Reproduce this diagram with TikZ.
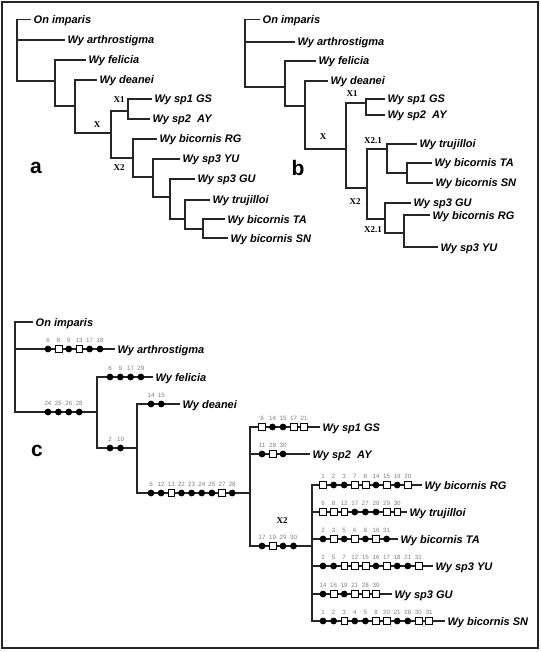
\documentclass[tikz,border=0pt]{standalone}
\usepackage{fontspec}
\setmainfont{Liberation Sans}
\newfontfamily\serifbold{Liberation Serif}
\newcommand{\markrow}[5]{%
  \foreach \mnum/\mtyp [count=\mi] in {#5} {%
    \node[mk\mtyp, label={[numlbl]above:\mnum}] (#1-\mi) at ({#2+(\mi-1)*#3},#4) {};
  }}
\tikzset{
  sp/.style={anchor=west, font=\bfseries\itshape\fontsize{11}{12}\selectfont, inner xsep=2.5pt, inner ysep=0pt, text height=8pt, text depth=0pt},
  br/.style={line width=1.25pt, black!85},
  xlab/.style={font=\serifbold\bfseries\fontsize{9}{10}\selectfont, inner sep=0pt},
  panel/.style={font=\bfseries\fontsize{21}{22}\selectfont, inner sep=0pt},
  mkf/.style={circle, fill=black, minimum size=6.8pt, inner sep=0pt},
  mko/.style={rectangle, draw=black, fill=white, line width=0.6pt, minimum size=6.8pt, inner sep=0pt},
  numlbl/.style={font=\fontsize{6.2}{6.2}\selectfont, text=black!50, inner sep=0pt, text height=4.4pt, text depth=0pt, label distance=2.8pt},
}
\begin{document}
\begin{tikzpicture}[x=1pt,y=-1pt]
\useasboundingbox (0,0) rectangle (540,652);
\draw[line width=1.3pt, black!85] (2,2) rectangle (538,648);

% ---------- tree a ----------
\coordinate (aR) at (17,50);
\node[sp] (aOn) at (31,19.5) {On imparis};
\node[sp] (aArth) at (65,40) {Wy arthrostigma};
\coordinate (aN1) at (55,81);
\node[sp] (aFel) at (86,60) {Wy felicia};
\coordinate (aN2) at (75,106);
\node[sp] (aDea) at (97,80) {Wy deanei};
\coordinate (aX) at (111,133);
\coordinate (aX1) at (128,111);
\node[sp] (aGS) at (152,99) {Wy sp1 GS};
\node[sp] (aAY) at (150,119) {Wy sp2\ \ AY};
\coordinate (aX2) at (133,158);
\node[sp] (aRG) at (157,139) {Wy bicornis RG};
\coordinate (aN3) at (153,177);
\node[sp] (aYU) at (180,159) {Wy sp3 YU};
\coordinate (aN4) at (170,197);
\node[sp] (aGU) at (195,179) {Wy sp3 GU};
\coordinate (aN5) at (185,219);
\node[sp] (aTru) at (210,200) {Wy trujilloi};
\coordinate (aN6) at (203,229);
\node[sp] (aTA) at (225,219) {Wy bicornis TA};
\node[sp] (aSN) at (228,238) {Wy bicornis SN};
\draw[br] (aR) |- (aOn.west);
\draw[br] (aR) |- (aArth.west);
\draw[br] (aR) |- (aN1);
\draw[br] (aN1) |- (aFel.west);
\draw[br] (aN1) |- (aN2);
\draw[br] (aN2) |- (aDea.west);
\draw[br] (aN2) |- (aX);
\draw[br] (aX) |- (aX1);
\draw[br] (aX1) |- (aGS.west);
\draw[br] (aX1) |- (aAY.west);
\draw[br] (aX) |- (aX2);
\draw[br] (aX2) |- (aRG.west);
\draw[br] (aX2) |- (aN3);
\draw[br] (aN3) |- (aYU.west);
\draw[br] (aN3) |- (aN4);
\draw[br] (aN4) |- (aGU.west);
\draw[br] (aN4) |- (aN5);
\draw[br] (aN5) |- (aTru.west);
\draw[br] (aN5) |- (aN6);
\draw[br] (aN6) |- (aTA.west);
\draw[br] (aN6) |- (aSN.west);
\node[xlab] (aXl) at (97,125) {X};
\node[xlab] (aX1l) at (119,100) {X1};
\node[xlab] (aX2l) at (119,168) {X2};
\node[panel] (aP) at (36,168) {a};

% ---------- tree b ----------
\coordinate (bR) at (245,50);
\node[sp] (bOn) at (260,19.5) {On imparis};
\node[sp] (bArth) at (295,42) {Wy arthrostigma};
\coordinate (bN1) at (285,87);
\node[sp] (bFel) at (316,61) {Wy felicia};
\coordinate (bN2) at (305,106);
\node[sp] (bDea) at (328,81) {Wy deanei};
\coordinate (bX) at (346,149);
\coordinate (bX1) at (366,103);
\node[sp] (bGS) at (385,99) {Wy sp1 GS};
\node[sp] (bAY) at (385,115) {Wy sp2\ \ AY};
\coordinate (bX2) at (367,188);
\coordinate (bX21a) at (387,149);
\node[sp] (bTru) at (417,144) {Wy trujilloi};
\coordinate (bN3) at (407,173);
\node[sp] (bTA) at (432,163) {Wy bicornis TA};
\node[sp] (bSN) at (433,183) {Wy bicornis SN};
\coordinate (bX21b) at (385,219);
\node[sp] (bGU) at (411,203) {Wy sp3 GU};
\coordinate (bN4) at (404,233);
\node[sp] (bRG) at (430,215) {Wy bicornis RG};
\node[sp] (bYU) at (438,247) {Wy sp3 YU};
\draw[br] (bR) |- (bOn.west);
\draw[br] (bR) |- (bArth.west);
\draw[br] (bR) |- (bN1);
\draw[br] (bN1) |- (bFel.west);
\draw[br] (bN1) |- (bN2);
\draw[br] (bN2) |- (bDea.west);
\draw[br] (bN2) |- (bX);
\draw[br] (bX) |- (bX1);
\draw[br] (bX1) |- (bGS.west);
\draw[br] (bX1) |- (bAY.west);
\draw[br] (bX) |- (bX2);
\draw[br] (bX2) |- (bX21a);
\draw[br] (bX21a) |- (bTru.west);
\draw[br] (bX21a) |- (bN3);
\draw[br] (bN3) |- (bTA.west);
\draw[br] (bN3) |- (bSN.west);
\draw[br] (bX2) |- (bX21b);
\draw[br] (bX21b) |- (bGU.west);
\draw[br] (bX21b) |- (bN4);
\draw[br] (bN4) |- (bRG.west);
\draw[br] (bN4) |- (bYU.west);
\node[xlab] (bXl) at (323,137) {X};
\node[xlab] (bX1l) at (352,94) {X1};
\node[xlab] (bX2l) at (355,202) {X2};
\node[xlab] (bX21al) at (373,141) {X2.1};
\node[xlab] (bX21bl) at (373,230) {X2.1};
\node[panel] (bP) at (298,168) {b};

% ---------- tree c ----------
\coordinate (cR) at (15,370);
\node[sp] (cOn) at (33,322) {On imparis};
\node[sp] (cArth) at (115,349) {Wy arthrostigma};
\coordinate (cN1) at (97,412);
\node[sp] (cFel) at (153,377) {Wy felicia};
\coordinate (cN2) at (137,448);
\node[sp] (cDea) at (180,404) {Wy deanei};
\coordinate (cN3) at (250,493);
\node[sp] (cGS) at (320,427) {Wy sp1 GS};
\node[sp] (cAY) at (310,454) {Wy sp2\ \ AY};
\coordinate (cX2) at (312,546);
\node[sp] (cRG) at (422,485) {Wy bicornis RG};
\node[sp] (cTru) at (407,512) {Wy trujilloi};
\node[sp] (cTA) at (398,539) {Wy bicornis TA};
\node[sp] (cYU) at (433,566) {Wy sp3 YU};
\node[sp] (cGU) at (392,594) {Wy sp3 GU};
\node[sp] (cSN) at (445,621) {Wy bicornis SN};
\draw[br] (cR) |- (cOn.west);
\draw[br] (cR) |- (cArth.west);
\draw[br] (cR) |- (cN1);
\draw[br] (cN1) |- (cFel.west);
\draw[br] (cN1) |- (cN2);
\draw[br] (cN2) |- (cDea.west);
\draw[br] (cN2) |- (cN3);
\draw[br] (cN3) |- (cGS.west);
\draw[br] (cN3) |- (cAY.west);
\draw[br] (cN3) |- (cX2);
\draw[br] (cX2) |- (cRG.west);
\draw[br] (cX2) |- (cTru.west);
\draw[br] (cX2) |- (cTA.west);
\draw[br] (cX2) |- (cYU.west);
\draw[br] (cX2) |- (cGU.west);
\draw[br] (cX2) |- (cSN.west);
\node[xlab] (cX2l) at (282,521) {X2};
\node[panel] (cP) at (37,451) {c};

\markrow{mArth}{48}{10.4}{349}{6/f,8/o,9/f,13/o,17/f,18/f}
\markrow{mLow}{48}{10.4}{412}{24/f,25/f,26/f,28/f}
\markrow{mFel}{110}{10.3}{377}{6/f,9/f,17/f,29/f}
\markrow{mTwo}{110}{10.5}{448}{2/f,10/f}
\markrow{mDea}{151}{10.3}{404}{14/f,15/f}
\markrow{mBig}{151}{10.15}{493}{6/f,12/f,13/o,22/f,23/f,24/f,25/f,27/o,28/f}
\markrow{mGS}{262}{10.5}{427}{6/o,14/f,15/f,17/o,21/o}
\markrow{mAY}{262}{10.5}{454}{11/f,28/o,30/f}
\markrow{mX2}{262}{10.5}{546}{17/f,19/o,29/f,30/f}
\markrow{mRG}{323}{10.6}{485}{1/o,2/f,3/f,7/o,8/o,14/f,15/o,19/f,20/o}
\markrow{mTru}{323}{10.6}{512}{6/o,8/o,12/o,17/f,27/f,28/f,29/o,30/o}
\markrow{mTA}{323}{10.6}{539}{2/f,3/o,5/f,6/o,8/f,16/o,31/f}
\markrow{mYU}{323}{10.6}{566}{2/f,5/f,7/o,12/o,15/o,16/f,17/o,18/f,21/f,31/o}
\markrow{mGU}{323}{10.6}{594}{14/f,16/o,19/f,21/o,28/o,30/o}
\markrow{mSN}{323}{10.6}{621}{1/f,2/f,3/o,4/f,5/f,8/o,20/o,21/f,28/f,30/o,31/o}
\end{tikzpicture}
\end{document}
